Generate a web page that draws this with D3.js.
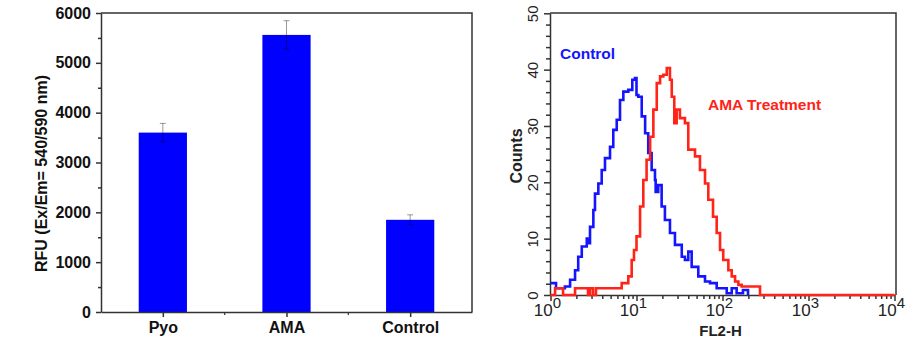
<!DOCTYPE html>
<html>
<head>
<meta charset="utf-8">
<script src="https://cdn.jsdelivr.net/npm/d3@7"></script>
<style>
body { margin: 0; background: #fff; }
text { font-family: Arial, "Liberation Sans", sans-serif; }
</style>
</head>
<body>
<div id="chart"></div>
<script>
// bar chart data
var groups = ["Pyo", "AMA", "Control"];
var rfu = [3600, 5560, 1850];
var rfuErr = [185, 285, 100];
var rfuTicks = [0, 1000, 2000, 3000, 4000, 5000, 6000];

// histogram data (FL2-H value, counts)
var ctrlFL = [1.0, 1.16, 1.47, 1.69, 1.93, 2.1, 2.31, 2.64, 2.75, 2.88, 3.15, 3.29, 3.6, 3.94, 4.3, 4.92, 5.37, 5.89, 6.43, 7.03, 8.03, 8.94, 9.6, 10.0, 10.5, 11.5, 12.6, 13.7, 15.0, 16.4, 16.7, 17.9, 19.6, 21.4, 24.5, 28.0, 33.6, 36.6, 40.0, 43.8, 52.3, 62.6, 71.6, 85.6, 112, 128, 146, 173, 198];
var ctrlCounts = [2.1, 1.2, 1.5, 2.7, 4.4, 6.8, 8.6, 10, 9.2, 12.1, 15.1, 18, 19.8, 22.2, 24.3, 26.3, 29.3, 31.1, 34.6, 36.1, 36.4, 38.2, 38.5, 35.5, 35.2, 31.7, 28.7, 25.2, 22.2, 20.4, 18.3, 19.5, 15.7, 13.3, 11, 8.9, 6.8, 6.2, 7.7, 5, 3.3, 2.4, 2.1, 1.2, 0.3, 1.2, 0.3, 0.9, 0];
var amaFL = [1.0, 1.13, 1.4, 1.93, 2.73, 2.88, 3.12, 3.38, 6.73, 8.03, 8.79, 9.35, 10.0, 11.0, 12.0, 13.1, 14.4, 15.7, 17.2, 18.8, 20.5, 22.5, 24.5, 25.7, 27.5, 29.3, 32.0, 36.6, 40.0, 47.9, 54.7, 62.6, 68.4, 77.6, 85.6, 93.6, 102, 117, 128, 140, 153, 167, 273, 10000];
var amaCounts = [0, 1.2, 0, 1.2, 0, 1.2, 0, 1.2, 2.1, 3.3, 6.2, 8, 10.4, 15.7, 20.4, 24, 28.1, 32.9, 37.6, 38.8, 39.1, 40.3, 38.2, 35.2, 30.5, 32.9, 31.4, 30.5, 25.8, 24.6, 22.2, 19.8, 16.9, 13.9, 11, 8, 6.2, 4.4, 3.3, 2.4, 1.8, 1.5, 0, 0];
var countTicks = [0, 10, 20, 30, 40, 50];

var svg = d3.select("#chart").append("svg")
    .attr("width", 918)
    .attr("height", 341);

// ---------- left: bar chart ----------
var L = {left: 101, right: 472, top: 13, bottom: 312};

var xBar = d3.scalePoint()
  .domain(groups)
  .range([L.left, L.right])
  .padding(0.5);
var yBar = d3.scaleLinear()
  .domain([0, 6000])
  .range([L.bottom, L.top]);
var barW = xBar.step() * 0.39;

var gl = svg.append("g");

// frame (top + right)
gl.append("path")
  .attr("d", "M" + L.left + "," + L.top + "H" + L.right + "V" + L.bottom)
  .attr("fill", "none").attr("stroke", "#333").attr("stroke-width", 1.5);

gl.selectAll(".bar")
  .data(groups)
  .enter().append("rect")
    .attr("class", "bar")
    .attr("x", function(d) { return xBar(d) - barW / 2; })
    .attr("width", barW)
    .attr("y", function(d, i) { return yBar(rfu[i]); })
    .attr("height", function(d, i) { return yBar(0) - yBar(rfu[i]); })
    .attr("fill", "#0000ff");

// error bars
var eb = gl.selectAll(".err").data(groups).enter().append("g")
  .attr("stroke", "#000").attr("stroke-opacity", 0.4).attr("stroke-width", 1);
eb.append("line")
  .attr("x1", function(d) { return xBar(d); })
  .attr("x2", function(d) { return xBar(d); })
  .attr("y1", function(d, i) { return yBar(rfu[i] + rfuErr[i]); })
  .attr("y2", function(d, i) { return yBar(rfu[i] - rfuErr[i]); });
[1, -1].forEach(function(s) {
  eb.append("line")
    .attr("x1", function(d) { return xBar(d) - 3; })
    .attr("x2", function(d) { return xBar(d) + 3; })
    .attr("y1", function(d, i) { return yBar(rfu[i] + s * rfuErr[i]); })
    .attr("y2", function(d, i) { return yBar(rfu[i] + s * rfuErr[i]); });
});

// y axis
var yAxisL = gl.append("g")
  .attr("transform", "translate(" + L.left + ",0)")
  .call(d3.axisLeft(yBar).tickValues(rfuTicks).tickFormat(d3.format("d"))
    .tickSize(5).tickSizeOuter(0).tickPadding(5));
gl.append("g")
  .attr("transform", "translate(" + L.left + ",0)")
  .call(d3.axisLeft(yBar).tickValues(d3.range(500, 6000, 1000)).tickSize(3).tickFormat("").tickSizeOuter(0))
  .select(".domain").remove();

// x axis
var xAxisL = gl.append("g")
  .attr("transform", "translate(0," + L.bottom + ")")
  .call(d3.axisBottom(xBar).tickSize(5).tickSizeOuter(0).tickPadding(5));
var mids = [L.left + xBar.step(), L.left + 2 * xBar.step()];
gl.selectAll(".xminor").data(mids).enter().append("line")
  .attr("x1", function(d) { return d; }).attr("x2", function(d) { return d; })
  .attr("y1", L.bottom).attr("y2", L.bottom + 3)
  .attr("stroke", "#333").attr("stroke-width", 1.2);

[yAxisL, xAxisL].forEach(function(a) {
  a.selectAll("text").attr("font-size", 16).attr("font-weight", "bold").attr("fill", "#111")
    .attr("font-family", "Arial, 'Liberation Sans', sans-serif");
});
gl.selectAll(".domain, .tick line").attr("stroke", "#333").attr("stroke-width", 1.5);

gl.append("text")
  .attr("transform", "translate(47," + ((L.top + L.bottom) / 2 + 11) + ") rotate(-90)")
  .attr("text-anchor", "middle")
  .attr("font-size", 16).attr("font-weight", "bold").attr("fill", "#111")
  .text("RFU (Ex/Em= 540/590 nm)");

// ---------- right: histogram ----------
var R = {left: 550, right: 896, top: 13, bottom: 295};

var xH = d3.scaleLog().domain([1, 10000]).range([R.left + 0.5, R.right - 1.5]);
var yH = d3.scaleLinear().domain([0, 50]).range([R.bottom, R.top + 0.3]);

var gr = svg.append("g");

gr.append("path")
  .attr("d", "M" + R.left + "," + R.top + "H" + R.right + "V" + R.bottom)
  .attr("fill", "none").attr("stroke", "#333").attr("stroke-width", 1.5);

// y axis, labels turned on their side
var yAxisR = gr.append("g")
  .attr("transform", "translate(" + R.left + ",0)")
  .call(d3.axisLeft(yH).tickValues(countTicks).tickSize(6).tickSizeOuter(0));
yAxisR.selectAll(".tick text")
  .attr("transform", "translate(-17,0) rotate(-90)")
  .attr("x", 0).attr("y", 0).attr("dy", "0.35em")
  .attr("text-anchor", "middle")
  .attr("font-size", 15).attr("fill", "#222");
gr.append("g")
  .attr("transform", "translate(" + R.left + ",0)")
  .call(d3.axisLeft(yH).tickValues(d3.range(0, 51, 2).filter(function(v) { return v % 10; }))
    .tickSize(4).tickFormat("").tickSizeOuter(0))
  .select(".domain").remove();

// x axis (log)
var minorX = [];
[1, 10, 100, 1000].forEach(function(dec) {
  for (var k = 2; k <= 9; k++) minorX.push(dec * k);
});
var xAxisR = gr.append("g")
  .attr("transform", "translate(0," + R.bottom + ")")
  .call(d3.axisBottom(xH).tickValues([1, 10, 100, 1000, 10000]).tickSize(6).tickSizeOuter(0).tickFormat(""));
gr.append("g")
  .attr("transform", "translate(0," + R.bottom + ")")
  .call(d3.axisBottom(xH).tickValues(minorX).tickSize(4).tickFormat("").tickSizeOuter(0))
  .select(".domain").remove();

var expLab = gr.selectAll(".xlab").data([0, 1, 2, 3, 4]).enter().append("text")
  .attr("x", function(d) { return xH(Math.pow(10, d)) - 3; })
  .attr("y", R.bottom + 21)
  .attr("text-anchor", "middle")
  .attr("font-size", 17).attr("fill", "#222");
expLab.append("tspan").text("10");
expLab.append("tspan").attr("dy", -8).attr("font-size", 15).text(function(d) { return d; });

gr.selectAll(".domain, .tick line").attr("stroke", "#333").attr("stroke-width", 1.5);

gr.append("text")
  .attr("x", xH(100) - 2).attr("y", R.bottom + 41)
  .attr("text-anchor", "middle")
  .attr("font-size", 15).attr("font-weight", "bold").attr("fill", "#222")
  .text("FL2-H");
gr.append("text")
  .attr("transform", "translate(522," + ((R.top + R.bottom) / 2 + 2) + ") rotate(-90)")
  .attr("text-anchor", "middle")
  .attr("font-size", 16).attr("font-weight", "bold").attr("fill", "#222")
  .text("Counts");

var line = d3.line()
  .x(function(d) { return xH(d[0]); })
  .y(function(d) { return yH(d[1]); })
  .curve(d3.curveStepAfter);

gr.append("path")
  .attr("d", line(d3.zip(ctrlFL, ctrlCounts)))
  .attr("fill", "none").attr("stroke", "#1414ff").attr("stroke-width", 2.6);
gr.append("path")
  .attr("d", line(d3.zip(amaFL, amaCounts)))
  .attr("fill", "none").attr("stroke", "#ff2318").attr("stroke-width", 2.6);

gr.append("text")
  .attr("x", 560).attr("y", 59)
  .attr("font-size", 15.5).attr("font-weight", "bold").attr("fill", "#1414ff")
  .text("Control");
gr.append("text")
  .attr("x", 708).attr("y", 110)
  .attr("font-size", 15.5).attr("font-weight", "bold").attr("fill", "#ff2318")
  .text("AMA Treatment");
</script>
</body>
</html>
